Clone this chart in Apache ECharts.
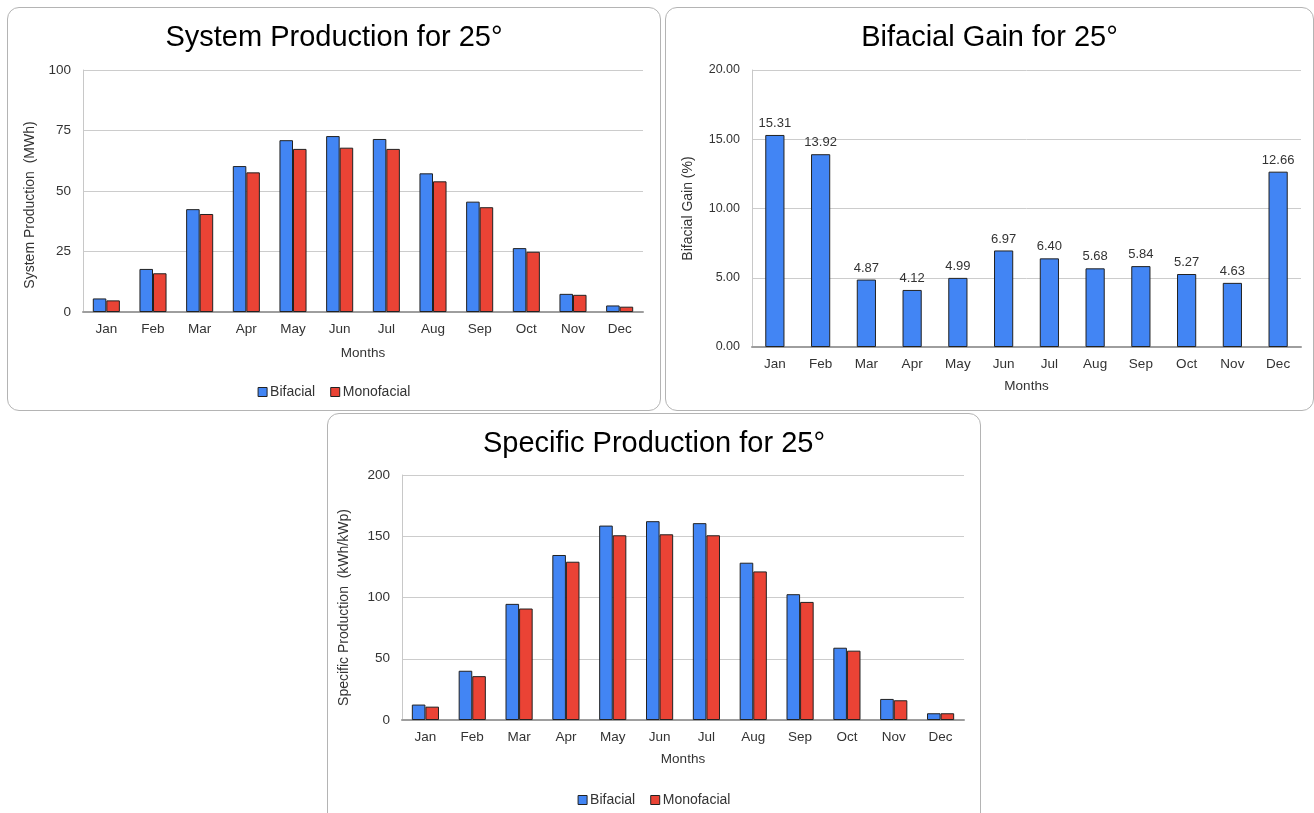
<!DOCTYPE html>
<html>
<head>
<meta charset="utf-8">
<script src="https://cdn.jsdelivr.net/npm/echarts@6/dist/echarts.min.js"></script>
<style>
  html, body { margin: 0; padding: 0; background: #ffffff; width: 1314px; height: 813px; overflow: hidden; }
  .panel { position: absolute; border: 1px solid #b4b4b4; border-radius: 12px; background: #fff; box-sizing: border-box; }
  #p1 { left: 7px; top: 7px; width: 654px; height: 404px; }
  #p2 { left: 665px; top: 7px; width: 649px; height: 404px; }
  #p3 { left: 327px; top: 413px; width: 654px; height: 420px; }
  .chart { position: absolute; left: 0; top: 0; width: 100%; height: 100%; }
</style>
</head>
<body>
<div class="panel" id="p1"><div class="chart" id="c1"></div></div>
<div class="panel" id="p2"><div class="chart" id="c2"></div></div>
<div class="panel" id="p3"><div class="chart" id="c3"></div></div>
<script>
// Monthly categories
const months = ['Jan', 'Feb', 'Mar', 'Apr', 'May', 'Jun', 'Jul', 'Aug', 'Sep', 'Oct', 'Nov', 'Dec'];

// System production (MWh)
const sysBifacial   = [5.6, 17.8, 42.5, 60.3, 71.0, 72.7, 71.5, 57.3, 45.6, 26.4, 7.5, 2.7];
const sysMonofacial = [4.8, 16.0, 40.5, 57.7, 67.4, 67.9, 67.4, 54.0, 43.3, 24.9, 7.1, 2.2];

// Bifacial gain (%)
const bifacialGain = [15.31, 13.92, 4.87, 4.12, 4.99, 6.97, 6.40, 5.68, 5.84, 5.27, 4.63, 12.66];

// Specific production (kWh/kWp)
const specBifacial   = [12.6, 40.2, 94.8, 134.7, 158.7, 162.3, 160.7, 128.4, 102.7, 59.0, 17.2, 5.5];
const specMonofacial = [10.9, 35.8, 91.0, 129.2, 150.8, 151.6, 150.8, 121.3, 96.4, 56.6, 16.1, 5.5];

const FONT = '"Liberation Sans", Arial, sans-serif';
const BLUE = '#4285f4';
const RED = '#ea4335';
const TXT = '#333333';

function titleOpt(text) {
  return {
    text: text, left: 'center', top: 10,
    textStyle: { fontFamily: FONT, fontSize: 29, fontWeight: 'normal', color: '#000' }
  };
}

function catAxis(nameGap) {
  return {
    type: 'category', data: months,
    name: 'Months', nameLocation: 'middle', nameGap: nameGap,
    nameTextStyle: { fontFamily: FONT, fontSize: 13.5, color: TXT },
    axisLine: { lineStyle: { color: '#9e9e9e', width: 2 } },
    axisTick: { show: false },
    axisLabel: { fontFamily: FONT, fontSize: 13.5, color: TXT, margin: 10 }
  };
}

function valAxis(name, max, interval, gap, decimals, labelSize, shift) {
  return {
    type: 'value', min: 0, max: max, interval: interval,
    name: name, nameLocation: 'middle', nameGap: gap, nameRotate: 90,
    nameTextStyle: { fontFamily: FONT, fontSize: 14, color: TXT, padding: [0, shift, 0, 0] },
    axisLine: { show: true, lineStyle: { color: '#c8c8c8', width: 1 } },
    axisTick: { show: false },
    splitLine: { lineStyle: { color: '#cccccc', width: 1 } },
    axisLabel: {
      fontFamily: FONT, fontSize: labelSize, color: TXT, margin: 12,
      formatter: v => decimals ? v.toFixed(decimals) : String(v)
    }
  };
}

function legendOpt(top) {
  return {
    top: top, left: 'center',
    itemWidth: 9, itemHeight: 9, itemGap: 15,
    icon: 'rect',
    itemStyle: { borderColor: '#222', borderWidth: 1 },
    textStyle: { fontFamily: FONT, fontSize: 14, color: TXT, padding: [0, 0, 0, -2] },
    data: ['Bifacial', 'Monofacial']
  };
}

function barSeries(name, data, color) {
  return {
    name: name, type: 'bar', data: data,
    barGap: '0%', barCategoryGap: '42%',
    itemStyle: { color: color, borderColor: '#222', borderWidth: 1 }
  };
}

// System production chart
const c1 = echarts.init(document.getElementById('c1'));
c1.setOption({
  animation: false,
  title: titleOpt('System Production for 25°'),
  grid: { left: 75, top: 62, width: 560, height: 242, containLabel: false },
  xAxis: catAxis(34),
  yAxis: valAxis('System Production  (MWh)', 100, 25, 44, 0, 13.5, 28),
  legend: legendOpt(372),
  series: [barSeries('Bifacial', sysBifacial, BLUE), barSeries('Monofacial', sysMonofacial, RED)]
});

// Bifacial gain chart
const c2 = echarts.init(document.getElementById('c2'));
c2.setOption({
  animation: false,
  title: titleOpt('Bifacial Gain for 25°'),
  grid: { left: 86, top: 62, width: 549, height: 277, containLabel: false },
  xAxis: catAxis(32),
  yAxis: valAxis('Bifacial Gain (%)', 20, 5, 57, 2, 12.5, 0),
  series: [{
    name: 'Bifacial Gain', type: 'bar', data: bifacialGain,
    barCategoryGap: '58%',
    itemStyle: { color: BLUE, borderColor: '#222', borderWidth: 1 },
    label: {
      show: true, position: 'top', distance: 5,
      fontFamily: FONT, fontSize: 13, color: TXT,
      formatter: p => p.value.toFixed(2)
    }
  }]
});

// Specific production chart
const c3 = echarts.init(document.getElementById('c3'));
c3.setOption({
  animation: false,
  title: titleOpt('Specific Production for 25°'),
  grid: { left: 74, top: 61, width: 562, height: 245, containLabel: false },
  xAxis: catAxis(32),
  yAxis: valAxis('Specific Production  (kWh/kWp)', 200, 50, 51, 0, 13.5, 20),
  legend: legendOpt(374),
  series: [barSeries('Bifacial', specBifacial, BLUE), barSeries('Monofacial', specMonofacial, RED)]
});
</script>
</body>
</html>
